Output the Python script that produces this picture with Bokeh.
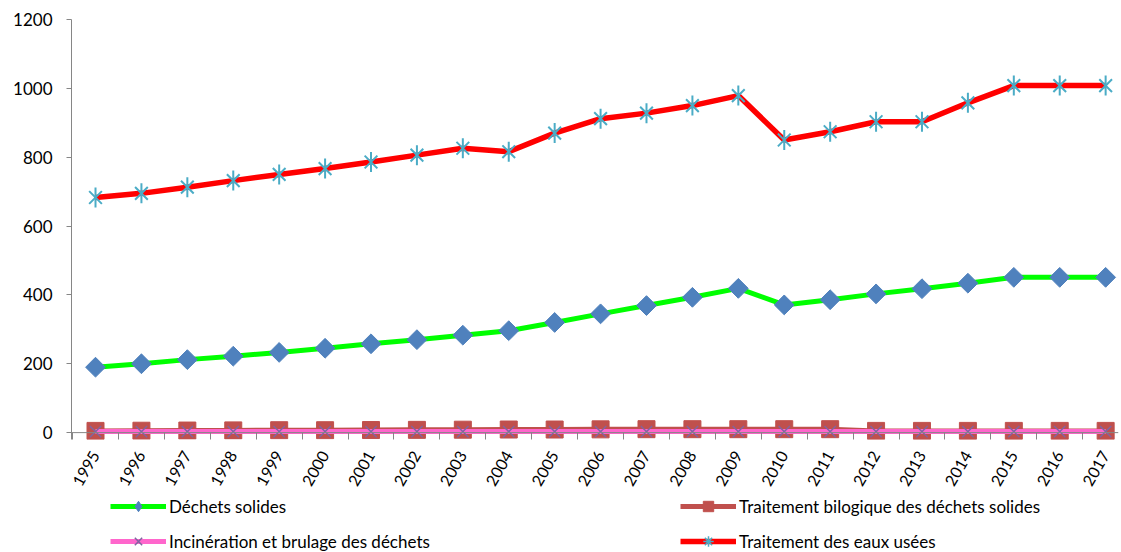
import math
from bokeh.plotting import figure
from bokeh.layouts import column
from bokeh.models import (FixedTicker, Range1d, Legend, LegendItem, ColumnDataSource, Span)
from bokeh.embed import file_html
from bokeh.resources import INLINE

# ---- data ----
years = [1995, 1996, 1997, 1998, 1999, 2000, 2001, 2002, 2003, 2004, 2005, 2006,
         2007, 2008, 2009, 2010, 2011, 2012, 2013, 2014, 2015, 2016, 2017]
dechets_solides = [190, 200, 212, 222, 233, 245, 258, 270, 283, 296, 320, 345,
                   369, 393, 419, 371, 386, 403, 418, 434, 451, 451, 451]
traitement_bio = [5, 5.5, 6, 6.5, 7, 7, 7.5, 8, 8.5, 9, 9, 9.5,
                  10, 10, 10, 10, 10, 5, 5, 5, 5, 5, 5]
incineration = [3, 3, 3, 3, 3, 3, 3, 3, 3, 3, 3, 3,
                3, 3, 3, 3, 3, 3, 3, 3, 3, 3, 3]
eaux_usees = [683, 695, 713, 732, 750, 767, 786, 806, 826, 816, 870, 912,
              928, 950, 979, 850, 874, 903, 903, 958, 1008, 1008, 1008]
y_ticks = [0, 200, 400, 600, 800, 1000, 1200]
series_labels = ["Déchets solides", "Traitement bilogique des déchets solides",
                 "Incinération et brulage des déchets", "Traitement des eaux usées"]

src = ColumnDataSource(dict(x=years, a=dechets_solides, b=traitement_bio,
                            c=incineration, d=eaux_usees))

FONT = "Lato"
axis_color = "#868686"

p = figure(width=1121, height=495, output_backend="svg", toolbar_location=None,
           x_range=Range1d(1994.477, 2017.28), y_range=Range1d(-20, 1200),
           min_border_left=71, min_border_right=3, min_border_top=19,
           min_border_bottom=56)
p.outline_line_color = None
p.xgrid.visible = False
p.ygrid.visible = False

# y axis
p.yaxis.ticker = FixedTicker(ticks=y_ticks)
p.yaxis.axis_line_color = axis_color
p.yaxis.major_tick_line_color = axis_color
p.yaxis.major_tick_out = 5
p.yaxis.major_tick_in = 0
p.yaxis.minor_tick_line_color = None
p.yaxis.major_label_standoff = 14
p.yaxis.major_label_text_font = FONT
p.yaxis.major_label_text_font_size = "17px"
p.yaxis.major_label_text_color = "black"

# x axis (category boundaries as ticks, zero line as Span)
p.xaxis.ticker = FixedTicker(ticks=years, minor_ticks=[y - 0.5 for y in years] + [2017.5])
p.xaxis.axis_line_color = None
p.xaxis.major_tick_line_color = None
p.xaxis.major_tick_out = 0
p.xaxis.major_tick_in = 0
p.xaxis.minor_tick_line_color = axis_color
p.xaxis.minor_tick_out = 0
p.xaxis.minor_tick_in = 7
p.xaxis.major_label_orientation = math.pi / 3
p.xaxis.major_label_standoff = 13
p.xaxis.major_label_text_font = FONT
p.xaxis.major_label_text_font_size = "16px"
p.xaxis.major_label_text_color = "black"
p.add_layout(Span(location=0, dimension="width", line_color=axis_color, line_width=1))

STY = {
    "a_line": dict(line_color="#00FF00", line_width=5, line_join="round"),
    "a_mark": dict(marker="square", angle=math.pi / 4, size=14,
                   fill_color="#4F81BD", line_color="#4F81BD"),
    "a_key": dict(marker="diamond", size=14, fill_color="#4F81BD", line_color="#4F81BD"),
    "b_line": dict(line_color="#C0504D", line_width=5, line_join="round"),
    "b_mark": dict(marker="square", size=17, fill_color="#C0504D", line_color="#C0504D"),
    "c_line": dict(line_color="#FF66CC", line_width=5, line_join="round"),
    "c_mark": dict(marker="x", size=16, line_color="#8064A2", line_width=1.5),
    "d_line": dict(line_color="#FF0000", line_width=5.5, line_join="round"),
    "d_mark1": dict(marker="x", size=18, line_color="#4BACC6", line_width=2),
    "d_mark2": dict(marker="dash", angle=math.pi / 2, size=20, line_color="#4BACC6", line_width=2),
    "d_key": dict(marker="asterisk", size=18, line_color="#4BACC6", line_width=1.5),
}


def draw(fig, names):
    rs = []
    for n in names:
        st = STY[n]
        ycol = n[0]
        if n.endswith("line"):
            rs.append(fig.line("x", ycol, source=src, **st))
        else:
            rs.append(fig.scatter("x", ycol, source=src, **st))
    return rs


for g in [["a_line", "a_mark"], ["b_line", "b_mark"], ["c_line", "c_mark"],
          ["d_line", "d_mark1", "d_mark2"]]:
    draw(p, g)

# ---- legend strip (its frame shows no data; renderers only feed the keys) ----
lg = figure(width=1121, height=57, output_backend="svg", toolbar_location=None,
            x_range=Range1d(0, 1), y_range=Range1d(0, 1),
            x_axis_location=None, y_axis_location=None,
            min_border=0, min_border_left=0, min_border_right=0,
            min_border_top=0, min_border_bottom=0)
lg.outline_line_color = None
lg.xgrid.visible = False
lg.ygrid.visible = False

key_groups = [["a_line", "a_key"], ["b_line", "b_mark"], ["c_line", "c_mark"],
              ["d_line", "d_key"]]
legend = Legend(items=[
    LegendItem(label=series_labels[i], renderers=draw(lg, key_groups[i])) for i in range(4)
], orientation="horizontal", ncols=2, glyph_width=56, glyph_height=26,
    label_height=26, label_width=502, spacing=9, label_standoff=3,
    padding=0, margin=0, border_line_alpha=0, background_fill_alpha=0,
    label_text_font=FONT, label_text_font_size="17px", label_text_color="black",
    location=(39, -2))
lg.add_layout(legend, "center")

layout = column(p, lg, spacing=0)
open("out.html", "w").write(file_html(layout, INLINE))
